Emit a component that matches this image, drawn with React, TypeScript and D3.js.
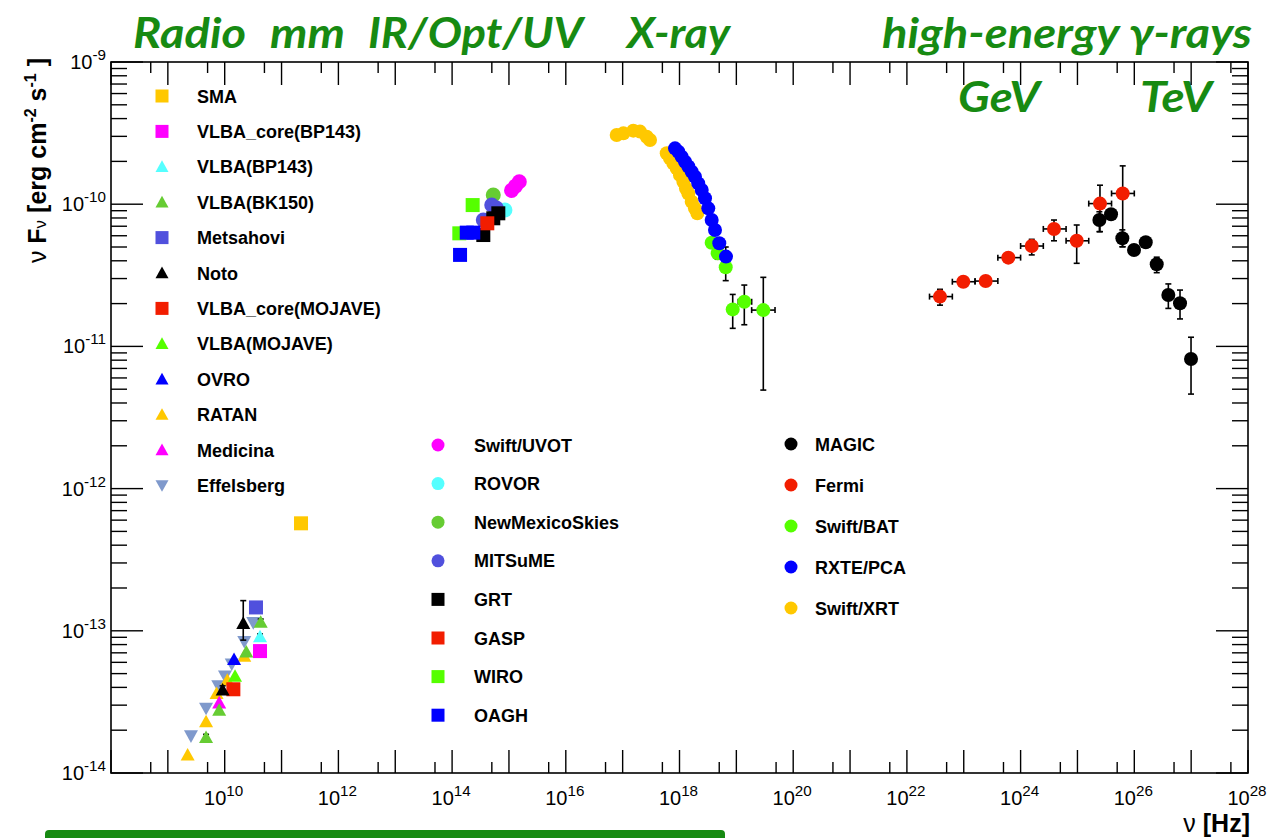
import React from 'react';
import * as d3 from 'd3';

// [nu (Hz), nuFnu (erg cm^-2 s^-1), fLo?, fHi?, nuLo?, nuHi?]
type Pt = number[];

// ---------- radio ----------
const smaData: Pt[] = [[2.2e11, 5.7e-13]];
const vlbaCoreBP143: Pt[] = [[4.18e10, 7.2e-14, 6.8e-14, 7.6e-14]];
const vlbaBP143: Pt[] = [[4.18e10, 9.1e-14, 8.7e-14, 9.5e-14]];
const vlbaBK150: Pt[] = [
  [4.3e10, 1.15e-13, 1.09e-13, 1.21e-13],
  [2.4e10, 7.1e-14],
  [8.0e9, 2.77e-14],
  [4.7e9, 1.78e-14, 1.7e-14, 1.87e-14],
];
const metsahovi: Pt[] = [[3.55e10, 1.46e-13]];
const noto: Pt[] = [
  [2.12e10, 1.13e-13, 8.6e-14, 1.63e-13],
  [9.2e9, 3.84e-14, 3.6e-14, 4.1e-14],
];
const vlbaCoreMOJAVE: Pt[] = [[1.42e10, 3.88e-14]];
const vlbaMOJAVE: Pt[] = [[1.52e10, 4.8e-14]];
const ovro: Pt[] = [[1.46e10, 6.3e-14]];
const ratan: Pt[] = [
  [2.21e10, 6.65e-14],
  [1.11e10, 4.5e-14],
  [7.2e9, 3.63e-14],
  [4.7e9, 2.3e-14],
  [2.23e9, 1.34e-14],
];
const medicina: Pt[] = [[8.0e9, 3.12e-14]];
const effelsberg: Pt[] = [
  [3.18e10, 1.14e-13],
  [2.21e10, 8.4e-14],
  [1.33e10, 5.83e-14],
  [1.01e10, 4.8e-14],
  [7.7e9, 4.1e-14],
  [4.7e9, 2.85e-14],
  [2.55e9, 1.82e-14],
];

// ---------- IR / optical / UV ----------
const swiftUVOT: Pt[] = [[1.11e15, 1.25e-10], [1.3e15, 1.34e-10], [1.52e15, 1.44e-10]];
const rovor: Pt[] = [[8.5e14, 9.1e-11]];
const newMexicoSkies: Pt[] = [[5.3e14, 1.16e-10]];
const mitsume: Pt[] = [[4.98e14, 9.86e-11], [6.0e14, 9.4e-11], [3.54e14, 7.74e-11]];
const grt: Pt[] = [[6.5e14, 8.63e-11], [5.3e14, 7.96e-11], [3.54e14, 6.07e-11]];
const gasp: Pt[] = [[4.16e14, 7.34e-11]];
const wiro: Pt[] = [[2.3e14, 9.86e-11], [1.34e14, 6.24e-11]];
const oagh: Pt[] = [[1.81e14, 6.31e-11], [2.36e14, 6.31e-11], [1.38e14, 4.4e-11]];

// ---------- X-ray / gamma ----------
const swiftXRT: Pt[] = [
  [7.86e16, 3.07e-10], [1.03e17, 3.15e-10], [1.54e17, 3.29e-10], [2.02e17, 3.24e-10],
  [2.65e17, 2.98e-10], [3.03e17, 2.83e-10], [5.96e17, 2.28e-10], [6.81e17, 2.1e-10],
  [7.78e17, 1.94e-10], [8.93e17, 1.79e-10], [1.02e18, 1.6e-10], [1.17e18, 1.44e-10],
  [1.3e18, 1.29e-10], [1.43e18, 1.19e-10], [1.64e18, 1.04e-10], [1.87e18, 9.35e-11],
  [2.06e18, 8.63e-11],
];
const rxtePCA: Pt[] = [
  [8.34e17, 2.47e-10], [9.53e17, 2.34e-10], [1.09e18, 2.16e-10], [1.25e18, 1.99e-10],
  [1.43e18, 1.84e-10], [1.64e18, 1.69e-10], [1.87e18, 1.56e-10], [2.14e18, 1.4e-10],
  [2.46e18, 1.26e-10], [2.81e18, 1.1e-10], [3.21e18, 9.35e-11], [3.68e18, 7.74e-11],
  [4.21e18, 6.59e-11], [5.01e18, 5.31e-11], [6.57e18, 4.28e-11],
];
const swiftBAT: Pt[] = [
  [3.68e18, 5.36e-11, 5.0e-11, 5.7e-11],
  [4.7e18, 4.52e-11, 4.1e-11, 5.2e-11],
  [6.5e18, 3.6e-11, 2.9e-11, 5.0e-11],
  [8.63e18, 1.82e-11, 1.34e-11, 2.32e-11],
  [1.38e19, 2.06e-11, 1.42e-11, 2.7e-11, 1.08e19, 1.86e19],
  [2.98e19, 1.8e-11, 4.93e-12, 3.06e-11, 1.86e19, 4.79e19],
];
const fermi: Pt[] = [
  [3.82e22, 2.24e-11, 1.95e-11, 2.52e-11, 2.5e22, 6.3e22],
  [9.82e22, 2.85e-11, 2.75e-11, 2.95e-11, 6.3e22, 1.58e23],
  [2.43e23, 2.88e-11, 2.78e-11, 2.98e-11, 1.58e23, 3.98e23],
  [6.08e23, 4.21e-11, 4.05e-11, 4.37e-11, 3.98e23, 1.0e24],
  [1.57e24, 5.08e-11, 4.4e-11, 5.66e-11, 1.0e24, 2.51e24],
  [3.87e24, 6.7e-11, 5.53e-11, 7.74e-11, 2.51e24, 6.31e24],
  [9.7e24, 5.53e-11, 3.84e-11, 7.14e-11, 6.31e24, 1.58e25],
  [2.49e25, 1.01e-10, 6.41e-11, 1.36e-10, 1.58e25, 3.98e25],
  [6.25e25, 1.19e-10, 5.02e-11, 1.86e-10, 3.98e25, 1.0e26],
];
const magic: Pt[] = [
  [2.43e25, 7.74e-11, 6.41e-11, 8.85e-11],
  [3.9e25, 8.49e-11],
  [6.16e25, 5.76e-11, 5.02e-11, 6.6e-11],
  [9.89e25, 4.76e-11],
  [1.59e26, 5.4e-11],
  [2.48e26, 3.78e-11, 3.3e-11, 4.24e-11],
  [3.97e26, 2.3e-11, 1.85e-11, 2.75e-11],
  [6.37e26, 2.01e-11, 1.56e-11, 2.49e-11],
  [9.95e26, 8.15e-12, 4.62e-12, 1.16e-11],
];

// axis decades
const xDecades = d3.range(8, 29);
const yDecades = d3.range(-14, -8);

type Shape = 'square' | 'up' | 'down' | 'circle';
interface Series { name: string; color: string; shape: Shape; data: Pt[] }

const C = {
  yellow: '#ffc800',
  magenta: '#ff00ff',
  cyan: '#55ffff',
  midGreen: '#66cc33',
  violet: '#5050dd',
  black: '#000000',
  red: '#f21d00',
  lime: '#55ff00',
  blue: '#0000ff',
  steel: '#7f99cc',
};

const radioSeries: Series[] = [
  { name: 'SMA', color: C.yellow, shape: 'square', data: smaData },
  { name: 'VLBA_core(BP143)', color: C.magenta, shape: 'square', data: vlbaCoreBP143 },
  { name: 'VLBA(BP143)', color: C.cyan, shape: 'up', data: vlbaBP143 },
  { name: 'VLBA(BK150)', color: C.midGreen, shape: 'up', data: vlbaBK150 },
  { name: 'Metsahovi', color: C.violet, shape: 'square', data: metsahovi },
  { name: 'Noto', color: C.black, shape: 'up', data: noto },
  { name: 'VLBA_core(MOJAVE)', color: C.red, shape: 'square', data: vlbaCoreMOJAVE },
  { name: 'VLBA(MOJAVE)', color: C.lime, shape: 'up', data: vlbaMOJAVE },
  { name: 'OVRO', color: C.blue, shape: 'up', data: ovro },
  { name: 'RATAN', color: C.yellow, shape: 'up', data: ratan },
  { name: 'Medicina', color: C.magenta, shape: 'up', data: medicina },
  { name: 'Effelsberg', color: C.steel, shape: 'down', data: effelsberg },
];

const opticalSeries: Series[] = [
  { name: 'Swift/UVOT', color: C.magenta, shape: 'circle', data: swiftUVOT },
  { name: 'ROVOR', color: C.cyan, shape: 'circle', data: rovor },
  { name: 'NewMexicoSkies', color: C.midGreen, shape: 'circle', data: newMexicoSkies },
  { name: 'MITSuME', color: C.violet, shape: 'circle', data: mitsume },
  { name: 'GRT', color: C.black, shape: 'square', data: grt },
  { name: 'GASP', color: C.red, shape: 'square', data: gasp },
  { name: 'WIRO', color: C.lime, shape: 'square', data: wiro },
  { name: 'OAGH', color: C.blue, shape: 'square', data: oagh },
];

const highSeries: Series[] = [
  { name: 'MAGIC', color: C.black, shape: 'circle', data: magic },
  { name: 'Fermi', color: C.red, shape: 'circle', data: fermi },
  { name: 'Swift/BAT', color: C.lime, shape: 'circle', data: swiftBAT },
  { name: 'RXTE/PCA', color: C.blue, shape: 'circle', data: rxtePCA },
  { name: 'Swift/XRT', color: C.yellow, shape: 'circle', data: swiftXRT },
];

// drawing order on the canvas
const radioDraw = [11, 9, 10, 3, 7, 8, 6, 5, 2, 1, 4, 0].map((i) => radioSeries[i]);
const opticalDraw = opticalSeries;
const highDraw = [4, 2, 3, 0, 1].map((i) => highSeries[i]);

const W = 1270;
const H = 838;
const L = 111, R = 1248, T = 62, B = 773;

const x = d3.scaleLog().domain([1e8, 1e28]).range([L, R]);
const y = d3.scaleLog().domain([1e-14, 1e-9]).range([B, T]);

const LABEL_FONT = '"Liberation Sans", Arial, Helvetica, sans-serif';
const TITLE_FONT = 'Lato, "Open Sans", sans-serif';
const GREEN = '#178a12';

function Marker({ shape, cx, cy, s, color }: { shape: Shape; cx: number; cy: number; s: number; color: string }) {
  if (shape === 'square') return <rect x={cx - s / 2} y={cy - s / 2} width={s} height={s} fill={color} />;
  if (shape === 'circle') return <circle cx={cx} cy={cy} r={s / 2} fill={color} />;
  const h = s * 0.9;
  if (shape === 'up')
    return <polygon points={`${cx},${cy - h * 0.55} ${cx - s / 2},${cy + h * 0.45} ${cx + s / 2},${cy + h * 0.45}`} fill={color} />;
  return <polygon points={`${cx},${cy + h * 0.55} ${cx - s / 2},${cy - h * 0.45} ${cx + s / 2},${cy - h * 0.45}`} fill={color} />;
}

function ErrorBars({ data }: { data: Pt[] }) {
  const cap = 3;
  return (
    <g stroke="#000" strokeWidth={1.6} fill="none">
      {data.map((p, i) => {
        const cx = x(p[0]);
        const cy = y(p[1]);
        const out: JSX.Element[] = [];
        if (p.length >= 4) {
          const y1 = y(p[3]);
          const y2 = y(p[2]);
          out.push(<line key="v" x1={cx} x2={cx} y1={y1} y2={y2} />);
          out.push(<line key="c1" x1={cx - cap} x2={cx + cap} y1={y1} y2={y1} />);
          out.push(<line key="c2" x1={cx - cap} x2={cx + cap} y1={y2} y2={y2} />);
        }
        if (p.length >= 6) {
          const x1 = x(p[4]);
          const x2 = x(p[5]);
          out.push(<line key="h" x1={x1} x2={x2} y1={cy} y2={cy} />);
          out.push(<line key="c3" x1={x1} x2={x1} y1={cy - cap} y2={cy + cap} />);
          out.push(<line key="c4" x1={x2} x2={x2} y1={cy - cap} y2={cy + cap} />);
        }
        return <g key={i}>{out}</g>;
      })}
    </g>
  );
}

function SeriesMarks({ s, size }: { s: Series; size: number }) {
  return (
    <g>
      <ErrorBars data={s.data} />
      {s.data.map((p, i) => (
        <Marker key={i} shape={s.shape} cx={x(p[0])} cy={y(p[1])} s={size} color={s.color} />
      ))}
    </g>
  );
}

function Pow({ exp, x0, y0, anchor, size = 20 }: { exp: number; x0: number; y0: number; anchor: string; size?: number }) {
  return (
    <text x={x0} y={y0} textAnchor={anchor} fontFamily={LABEL_FONT} fontSize={size} fill="#000">
      10
      <tspan fontSize={size * 0.76} dy={-size * 0.45}>{exp}</tspan>
    </text>
  );
}

function Legend({ items, mx, tx, y0, dy, size }: { items: Series[]; mx: number; tx: number; y0: number; dy: number; size: number }) {
  return (
    <g>
      {items.map((s, i) => (
        <g key={s.name}>
          <Marker shape={s.shape} cx={mx} cy={y0 + i * dy} s={size} color={s.color} />
          <text x={tx} y={y0 + i * dy + 6.5} fontFamily={LABEL_FONT} fontWeight="bold" fontSize={18} fill="#000">
            {s.name}
          </text>
        </g>
      ))}
    </g>
  );
}

export default function App() {
  const xMinor: number[] = xDecades.slice(0, -1).map((d) => 5 * Math.pow(10, d));
  const yMinor: number[] = [];
  yDecades.slice(0, -1).forEach((d) => {
    for (let k = 2; k <= 9; k++) yMinor.push(k * Math.pow(10, d));
  });

  return (
    <svg width={W} height={H} style={{ position: 'absolute', left: 0, top: 0, background: '#fff' }}>
      <rect width={W} height={H} fill="#fff" />

      {/* band titles */}
      <g fill={GREEN} fontFamily={TITLE_FONT} fontStyle="italic" fontWeight="bold" fontSize={42}>
        <text x={133} y={48} textLength={113} lengthAdjust="spacingAndGlyphs">Radio</text>
        <text x={270} y={48} textLength={75} lengthAdjust="spacingAndGlyphs">mm</text>
        <text x={368} y={48} textLength={215} lengthAdjust="spacingAndGlyphs">IR/Opt/UV</text>
        <text x={627} y={48} textLength={103} lengthAdjust="spacingAndGlyphs">X-ray</text>
        <text x={882} y={48} textLength={370} lengthAdjust="spacingAndGlyphs">high-energy γ-rays</text>
        <text x={958} y={112} textLength={82} lengthAdjust="spacingAndGlyphs">GeV</text>
        <text x={1140} y={112} textLength={72} lengthAdjust="spacingAndGlyphs">TeV</text>
      </g>

      {/* frame */}
      <rect x={L} y={T} width={R - L} height={B - T} fill="none" stroke="#000" strokeWidth={1.6} />

      {/* x ticks */}
      <g stroke="#000" strokeWidth={1.4}>
        {xDecades.map((d) => {
          const px = x(Math.pow(10, d));
          return (
            <g key={d}>
              <line x1={px} x2={px} y1={B} y2={B - 23} />
              <line x1={px} x2={px} y1={T} y2={T + 23} />
            </g>
          );
        })}
        {xMinor.map((v, i) => {
          const px = x(v);
          return (
            <g key={i}>
              <line x1={px} x2={px} y1={B} y2={B - 11} />
              <line x1={px} x2={px} y1={T} y2={T + 11} />
            </g>
          );
        })}
      </g>

      {/* y ticks */}
      <g stroke="#000" strokeWidth={1.4}>
        {yDecades.map((d) => {
          const py = y(Math.pow(10, d));
          return (
            <g key={d}>
              <line x1={L} x2={L + 32} y1={py} y2={py} />
              <line x1={R} x2={R - 32} y1={py} y2={py} />
            </g>
          );
        })}
        {yMinor.map((v, i) => {
          const py = y(v);
          return (
            <g key={i}>
              <line x1={L} x2={L + 16} y1={py} y2={py} />
              <line x1={R} x2={R - 16} y1={py} y2={py} />
            </g>
          );
        })}
      </g>

      {/* tick labels */}
      {yDecades.map((d) => (
        <Pow key={d} exp={d} x0={106} y0={y(Math.pow(10, d)) + 7} anchor="end" />
      ))}
      {xDecades.filter((d) => d % 2 === 0 && d >= 10).map((d) => (
        <Pow key={d} exp={d} x0={x(Math.pow(10, d)) - 1} y0={805} anchor="middle" />
      ))}

      {/* axis titles */}
      <text x={1250} y={832} textAnchor="end" fontFamily={LABEL_FONT} fontSize={25} fill="#000">
        <tspan fontWeight="normal">ν</tspan>
        <tspan fontWeight="bold"> [Hz]</tspan>
      </text>
      <text transform="translate(46,58) rotate(-90)" textAnchor="end" fontFamily={LABEL_FONT} fontSize={25} fill="#000">
        <tspan>ν </tspan>
        <tspan fontWeight="bold">F</tspan>
        <tspan fontSize={17}>ν</tspan>
        <tspan fontWeight="bold"> [erg cm</tspan>
        <tspan fontWeight="bold" fontSize={16} dy={-10}>-2</tspan>
        <tspan fontWeight="bold" dy={10}> s</tspan>
        <tspan fontWeight="bold" fontSize={16} dy={-10}>-1</tspan>
        <tspan fontWeight="bold" dy={10}> ]</tspan>
      </text>

      {/* data */}
      {radioDraw.map((s) => <SeriesMarks key={s.name} s={s} size={14} />)}
      {opticalDraw.map((s) => <SeriesMarks key={s.name} s={s} size={s.shape === 'circle' ? 15 : 14} />)}
      {highDraw.map((s) => <SeriesMarks key={s.name} s={s} size={14} />)}

      {/* legends */}
      <Legend items={radioSeries} mx={162} tx={197} y0={96} dy={35.4} size={13} />
      <Legend items={opticalSeries} mx={438} tx={474} y0={445} dy={38.6} size={13} />
      <Legend items={highSeries} mx={791} tx={815} y0={444} dy={41} size={13} />

      {/* bottom band */}
      <rect x={45} y={830} width={680} height={14} rx={4} fill={GREEN} />
    </svg>
  );
}
